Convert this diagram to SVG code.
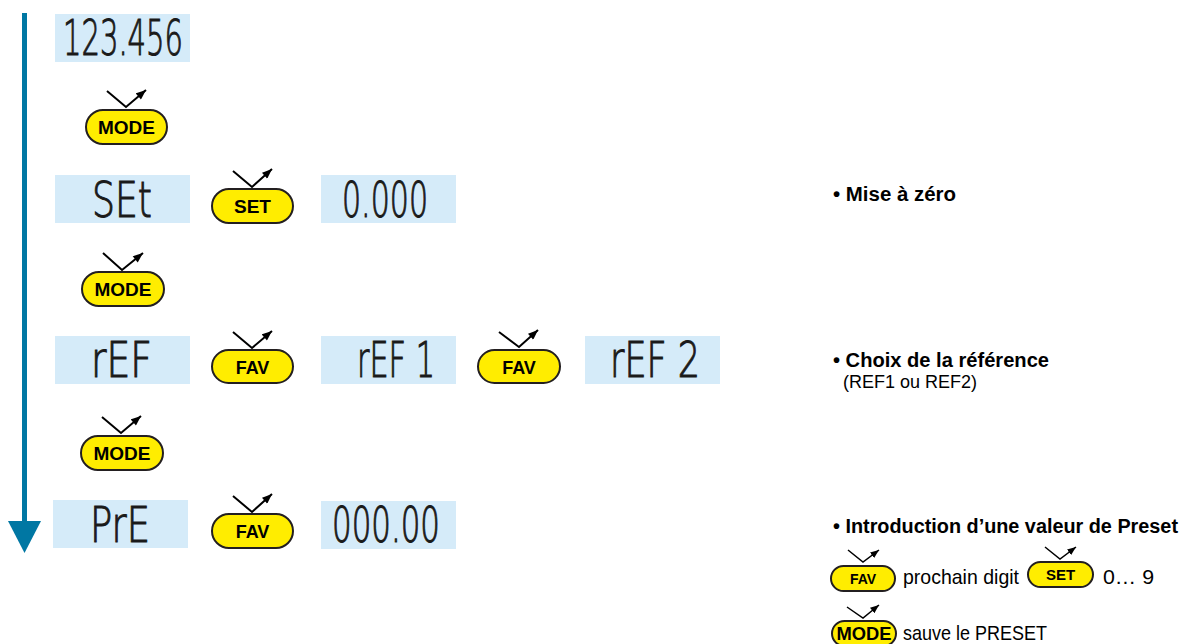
<svg xmlns="http://www.w3.org/2000/svg" width="1188" height="644" viewBox="0 0 1188 644">
<style>
  .lcd { fill: #d5ebf9; }
  .seg { font-family: "DejaVu Sans", "Liberation Sans", sans-serif; font-weight: 200; font-size: 50px; fill: #1a1a1a; stroke: #1a1a1a; stroke-width: 1.1; }
  .btn { fill: #ffed00; stroke: #231f20; stroke-width: 2; }
  .press { fill: none; stroke: #000; stroke-width: 2; marker-end: url(#ah); }
  .press-s { fill: none; stroke: #000; stroke-width: 1.5; marker-end: url(#ahs); }
  .bt { font-family: "Liberation Sans", Arial, sans-serif; font-weight: bold; font-size: 19px; fill: #000; text-anchor: middle; }
  .bt18 { font-size: 18px; }
  .bts { font-family: "Liberation Sans", Arial, sans-serif; font-weight: bold; font-size: 14px; fill: #000; text-anchor: middle; }
  .bts15 { font-size: 15px; }
  .bts18 { font-size: 18px; }
  .hb { font-family: "Liberation Sans", Arial, sans-serif; font-weight: bold; font-size: 20px; fill: #000; }
  .hr { font-family: "Liberation Sans", Arial, sans-serif; font-size: 21px; fill: #000; }
  .hr18 { font-size: 19px; }
</style>
<defs>
  <marker id="ah" viewBox="0 0 10 8" refX="10" refY="4" markerWidth="11" markerHeight="8" markerUnits="userSpaceOnUse" orient="auto">
    <path d="M0,0 L10,4 L0,8 z" fill="#000"/>
  </marker>
  <marker id="ahs" viewBox="0 0 10 8" refX="10" refY="4" markerWidth="9" markerHeight="7" markerUnits="userSpaceOnUse" orient="auto">
    <path d="M0,0 L10,4 L0,8 z" fill="#000"/>
  </marker>
</defs>
<rect width="1188" height="644" fill="#fff"/>

<g id="connectors">
  <line x1="24.5" y1="13" x2="24.5" y2="523" stroke="#0077a3" stroke-width="5"/>
  <polygon points="8,521 41,521 24.5,553" fill="#0077a3"/>
</g>

<g id="lcd-123456"><rect class="lcd" x="55" y="14" width="135" height="48"/><text class="seg" x="63" y="55" textLength="120" lengthAdjust="spacingAndGlyphs">123.456</text></g>
<g id="btn-mode1" transform="translate(86,110)"><rect class="btn" x="0" y="0" width="81" height="34" rx="17"/><path class="press" d="M21,-19 L40,-3 L60,-20"/><text class="bt" x="40.5" y="24">MODE</text></g>

<g id="lcd-set"><rect class="lcd" x="55" y="175" width="135" height="48"/><text class="seg" x="92" y="217" textLength="60" lengthAdjust="spacingAndGlyphs">SEt</text></g>
<g id="btn-set" transform="translate(212,189)"><rect class="btn" x="0" y="0" width="81" height="34" rx="17"/><path class="press" d="M21,-18 L40,-2 L60,-20"/><text class="bt" x="40.5" y="24">SET</text></g>
<g id="lcd-0000"><rect class="lcd" x="321" y="175" width="135" height="48"/><text class="seg" x="342" y="217" textLength="86" lengthAdjust="spacingAndGlyphs">0.000</text></g>

<g id="btn-mode2" transform="translate(82,272)"><rect class="btn" x="0" y="0" width="82" height="34" rx="17"/><path class="press" d="M21,-19 L40,-2 L61,-19"/><text class="bt" x="41" y="24">MODE</text></g>

<g id="lcd-ref"><rect class="lcd" x="55" y="336" width="135" height="48"/><text class="seg" x="91" y="377" textLength="61" lengthAdjust="spacingAndGlyphs">rEF</text></g>
<g id="btn-fav1" transform="translate(212,350)"><rect class="btn" x="0" y="0" width="81" height="33" rx="16.5"/><path class="press" d="M21,-18 L40,-2 L60,-19"/><text class="bt bt18" x="40.5" y="24">FAV</text></g>
<g id="lcd-ref1"><rect class="lcd" x="321" y="336" width="135" height="48"/><text class="seg" x="357" y="377" textLength="78" lengthAdjust="spacingAndGlyphs">rEF 1</text></g>
<g id="btn-fav2" transform="translate(478,350)"><rect class="btn" x="0" y="0" width="82" height="33" rx="16.5"/><path class="press" d="M21,-18 L41,-3 L60,-20"/><text class="bt bt18" x="41" y="24">FAV</text></g>
<g id="lcd-ref2"><rect class="lcd" x="585" y="336" width="135" height="48"/><text class="seg" x="610" y="377" textLength="90" lengthAdjust="spacingAndGlyphs">rEF 2</text></g>

<g id="btn-mode3" transform="translate(81,436)"><rect class="btn" x="0" y="0" width="82" height="34" rx="17"/><path class="press" d="M21,-19 L40,-3 L60,-20"/><text class="bt" x="41" y="24">MODE</text></g>

<g id="lcd-pre"><rect class="lcd" x="53" y="500" width="135" height="48"/><text class="seg" x="90" y="542" textLength="60" lengthAdjust="spacingAndGlyphs">PrE</text></g>
<g id="btn-fav3" transform="translate(212,514)"><rect class="btn" x="0" y="0" width="81" height="34" rx="17"/><path class="press" d="M21,-18 L40,-2 L60,-20"/><text class="bt bt18" x="40.5" y="24">FAV</text></g>
<g id="lcd-00000"><rect class="lcd" x="321" y="501" width="135" height="48"/><text class="seg" x="332" y="542" textLength="108" lengthAdjust="spacingAndGlyphs">000.00</text></g>

<g id="note-zero"><text class="hb" x="833" y="201" textLength="123" lengthAdjust="spacingAndGlyphs">• Mise à zéro</text></g>
<g id="note-ref">
  <text class="hb" x="833" y="367" textLength="216" lengthAdjust="spacingAndGlyphs">• Choix de la référence</text>
  <text class="hr hr18" x="843" y="388" textLength="134" lengthAdjust="spacingAndGlyphs">(REF1 ou REF2)</text>
</g>
<g id="note-preset">
  <text class="hb" x="833" y="533" textLength="345" lengthAdjust="spacingAndGlyphs">• Introduction d’une valeur de Preset</text>
  <g id="btn-fav-s" transform="translate(831,566)"><rect class="btn" x="0" y="0" width="64" height="25" rx="12.5"/><path class="press-s" d="M17,-16 L32,-4 L48,-16"/><text class="bts" x="32" y="18">FAV</text></g>
  <text class="hr" x="903" y="584" textLength="116" lengthAdjust="spacingAndGlyphs">prochain digit</text>
  <g id="btn-set-s" transform="translate(1028,562)"><rect class="btn" x="0" y="0" width="65" height="25" rx="12.5"/><path class="press-s" d="M17,-15 L32,-3 L48,-15"/><text class="bts bts15" x="32.5" y="18">SET</text></g>
  <text class="hr" x="1103" y="584" textLength="51" lengthAdjust="spacingAndGlyphs">0… 9</text>
  <g id="btn-mode-s" transform="translate(832,621)"><rect class="btn" x="0" y="0" width="64" height="25" rx="12.5"/><path class="press-s" d="M15,-14 L31,-3 L47,-16"/><text class="bts bts18" x="32" y="19" textLength="55" lengthAdjust="spacingAndGlyphs">MODE</text></g>
  <text class="hr" x="903" y="640" textLength="144" lengthAdjust="spacingAndGlyphs">sauve le PRESET</text>
</g>
</svg>
